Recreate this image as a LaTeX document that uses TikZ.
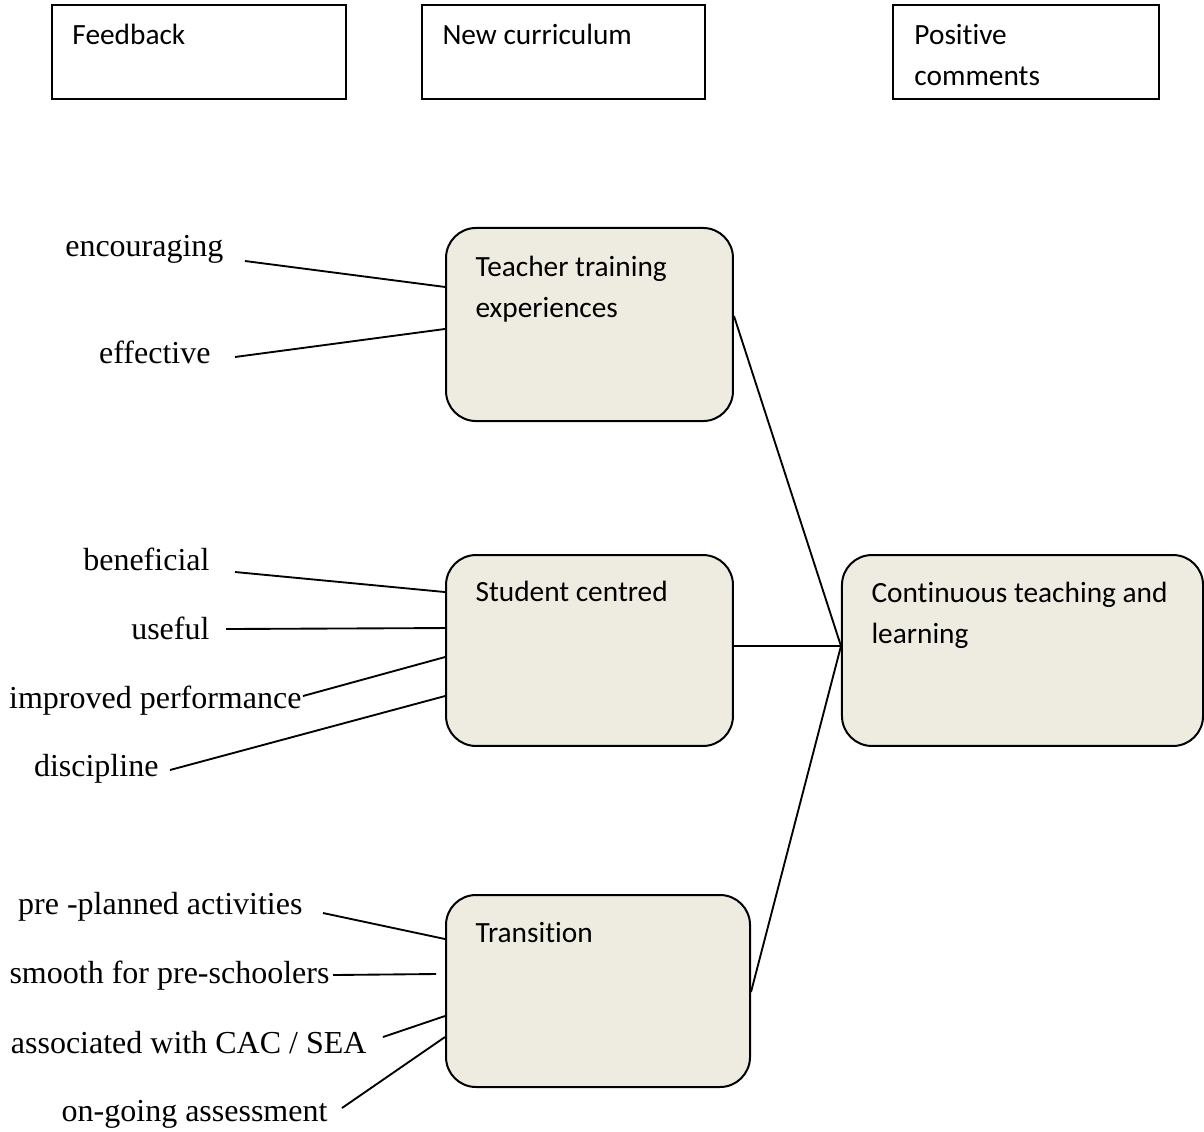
\documentclass[tikz,border=0pt]{standalone}
\usepackage{fontspec}
\setmainfont{Liberation Serif}
\newfontfamily\calibri[Ligatures={NoCommon},Contextuals={NoAlternate}]{Carlito}
\usepackage{xcolor}
\usetikzlibrary{calc}
\definecolor{boxtan}{HTML}{EEECE1}

\begin{document}
\begin{tikzpicture}[x=0.375pt, y=-0.375pt]
        \tikzset{
            top_box/.style={draw, line width=0.8pt, inner sep=0pt, minimum height=35.25pt},
            theme_box/.style={draw, fill=boxtan, rounded corners=11.25pt, line width=0.75pt, inner sep=0pt, minimum height=71.6pt},
            box_text/.style={anchor=north west, inner sep=0pt, align=left, font=\calibri\fontsize{11}{15.2}\selectfont},
            side_label/.style={anchor=base east, inner sep=0pt, font=\fontsize{12}{14}\selectfont},
            link/.style={line width=0.7pt}
        }
        \useasboundingbox (0,0) rectangle (1204,1131);
        % top row
        \node[top_box, minimum width=110.25pt] (feedback) at (199,52) {};
        \node[box_text] at ($(feedback.north west)+(21,20)$) {Feedback};
        \node[top_box, minimum width=106.1pt] (curriculum) at (563.5,52) {};
        \node[box_text] at ($(curriculum.north west)+(21,20)$) {New curriculum};
        \node[top_box, minimum width=99.75pt] (positive) at (1026,52) {};
        \node[box_text] at ($(positive.north west)+(22,20)$) {Positive\\comments};
        % themes
        \node[theme_box, minimum width=107.6pt, minimum height=72.4pt] (teacher) at (589.5,324.5) {};
        \node[box_text] at ($(teacher.north west)+(30,29)$) {Teacher training\\experiences};
        \node[theme_box, minimum width=107.6pt] (student) at (589.5,650.5) {};
        \node[box_text] at ($(student.north west)+(30,27)$) {Student centred};
        \node[theme_box, minimum width=114pt, minimum height=72pt] (transition) at (598,991) {};
        \node[box_text] at ($(transition.north west)+(30,28)$) {Transition};
        \node[theme_box, minimum width=135.4pt] (continuous) at (1022.5,650.5) {};
        \node[box_text] at ($(continuous.north west)+(30,28)$) {Continuous teaching and\\learning};
        % words on the left
        \node[side_label] (enc) at (224,256) {encouraging};
        \node[side_label] (eff) at (211,363) {effective};
        \node[side_label] (ben) at (210,570) {beneficial};
        \node[side_label] (use) at (210,639) {useful};
        \node[side_label] (imp) at (302,708) {improved performance};
        \node[side_label] (dis) at (159,776) {discipline};
        \node[side_label] (pre) at (303,914) {pre -planned activities};
        \node[side_label] (smo) at (330,983) {smooth for pre-schoolers};
        \node[side_label] (ass) at (367,1053) {associated with CAC / SEA};
        \node[side_label] (ong) at (328,1121) {on-going assessment};
        % links
        \draw[link] ($(enc.base east)+(21,5)$) -- ($(teacher.north west)+(0,60)$);
        \draw[link] ($(eff.base east)+(24,-6)$) -- ($(teacher.north west)+(0,102)$);
        \draw[link] ($(ben.base east)+(25,2)$) -- ($(student.north west)+(0,38)$);
        \draw[link] ($(use.base east)+(16,-10)$) -- ($(student.north west)+(0,74)$);
        \draw[link] ($(imp.base east)+(1,-12)$) -- ($(student.north west)+(0,103)$);
        \draw[link] ($(dis.base east)+(11,-6)$) -- ($(student.north west)+(0,142)$);
        \draw[link] ($(pre.base east)+(20,-1)$) -- ($(transition.north west)+(0,45)$);
        \draw[link] ($(smo.base east)+(3,-8)$) -- ($(transition.north west)+(-9,80)$);
        \draw[link] ($(ass.base east)+(16,-16)$) -- ($(transition.north west)+(0,122)$);
        \draw[link] ($(ong.base east)+(14,-13)$) -- ($(transition.north west)+(0,143)$);
        \draw[link] ($(teacher.north east)+(0,89)$) -- ($(continuous.north west)+(0,92)$);
        \draw[link] ($(student.north east)+(0,92)$) -- ($(continuous.north west)+(0,92)$);
        \draw[link] ($(transition.north east)+(0,98)$) -- ($(continuous.north west)+(0,92)$);
    \end{tikzpicture}
\end{document}
